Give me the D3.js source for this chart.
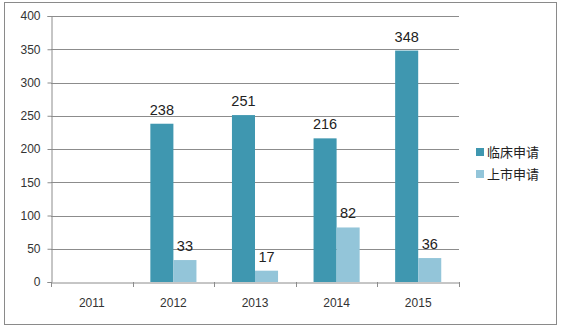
<!DOCTYPE html>
<html><head><meta charset="utf-8">
<script src="https://cdn.jsdelivr.net/npm/d3@7"></script>
<style>body{margin:0;background:#fff}svg{display:block}</style>
</head><body>
<script>
const categories = ["2011","2012","2013","2014","2015"];
const seriesNames = ["临床申请","上市申请"];
const clinical = [null,238,251,216,348];
const market = [null,33,17,82,36];
const yTicks = [0,50,100,150,200,250,300,350,400];
const colors = ["#3f97b0","#93c5d9"];

const W=561,H=330;
const svg=d3.select("body").append("svg").attr("width",W).attr("height",H);
svg.append("rect").attr("x",4.5).attr("y",2.5).attr("width",552).attr("height",322)
  .attr("fill","#fff").attr("stroke","#8a8a8a").attr("stroke-width",1);

const m={l:51,r:459,t:16,b:282};
const x=d3.scaleBand().domain(categories).range([m.l,m.r]).paddingInner(0).paddingOuter(0);
const y=d3.scaleLinear().domain([0,400]).range([m.b,m.t]);
const inner=d3.scaleBand().domain(seriesNames).range([0,x.bandwidth()]).paddingInner(0).paddingOuter(0.77);

// grid
svg.append("g").selectAll("line").data(yTicks.slice(1)).join("line")
  .attr("x1",m.l).attr("x2",m.r).attr("y1",d=>Math.round(y(d))+0.5).attr("y2",d=>Math.round(y(d))+0.5)
  .attr("stroke","#8c8c8c").attr("stroke-width",1);

// y axis
const ya=svg.append("g").attr("transform",`translate(${m.l+0.5},0)`)
  .call(d3.axisLeft(y).tickValues(yTicks).tickSize(4).tickPadding(7));
ya.select(".domain").attr("stroke","#8c8c8c");
ya.selectAll(".tick line").attr("stroke","#8c8c8c");
ya.selectAll(".tick text").attr("font-family","Liberation Sans, Arial, sans-serif").attr("font-size",12).attr("fill","#333");

// bars
const data=categories.map((c,i)=>({c,vals:[clinical[i],market[i]]}));
const g=svg.append("g");
data.forEach(d=>{
  d.vals.forEach((v,j)=>{
    if(v==null) return;
    const bx=x(d.c)+inner(seriesNames[j]);
    g.append("rect").attr("x",bx).attr("y",y(v)).attr("width",inner.bandwidth()).attr("height",y(0)-y(v)).attr("fill",colors[j]);
    g.append("text").attr("x",bx+inner.bandwidth()/2).attr("y",y(v)-9).attr("text-anchor","middle")
      .attr("font-family","Liberation Sans, Arial, sans-serif").attr("font-size",14.5).attr("fill","#222").text(v);
  });
});

// x axis
const xa=svg.append("g").attr("transform",`translate(0,${m.b+0.5})`)
  .call(d3.axisBottom(x).tickSize(0).tickPadding(16));
xa.select(".domain").attr("stroke","#8c8c8c");
xa.selectAll(".tick text").attr("font-family","Liberation Sans, Arial, sans-serif").attr("font-size",12).attr("fill","#333");
svg.append("g").selectAll("line").data(categories.concat(["end"])).join("line")
  .attr("x1",(d,i)=>Math.round(m.l+i*x.bandwidth())+0.5).attr("x2",(d,i)=>Math.round(m.l+i*x.bandwidth())+0.5)
  .attr("y1",m.b).attr("y2",m.b+5).attr("stroke","#8c8c8c");

// legend
const lg=svg.append("g").attr("transform","translate(476,0)");
seriesNames.forEach((s,i)=>{
  const yy=152+i*22;
  lg.append("rect").attr("x",0).attr("y",yy-4).attr("width",8).attr("height",8).attr("fill",colors[i]);
  lg.append("text").attr("x",11).attr("y",yy+5).attr("font-family","Noto Sans CJK SC, sans-serif").attr("font-size",13).attr("fill","#222").text(s);
});
</script>
</body></html>
